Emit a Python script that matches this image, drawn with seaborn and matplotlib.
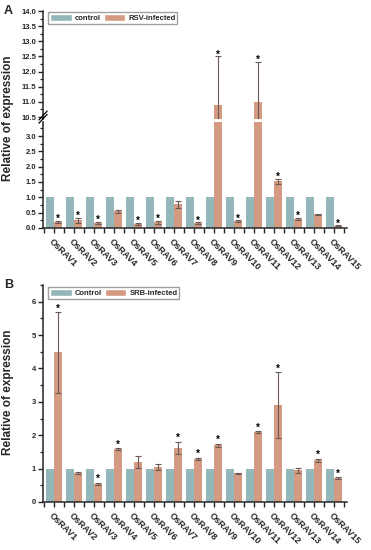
import numpy as np
import pandas as pd
import matplotlib
matplotlib.use('Agg')
import matplotlib.pyplot as plt
import seaborn as sns
from matplotlib.patches import Patch
from matplotlib.ticker import MultipleLocator

genes = ['OsRAV%d' % i for i in range(1, 16)]

# panel A: RSV
ctrl_a = [1.0] * 15
rsv = [0.20, 0.25, 0.17, 0.54, 0.14, 0.18, 0.77, 0.15, 10.9, 0.22, 11.0, 1.53, 0.29, 0.45, 0.07]
rsv_err = [0.03, 0.08, 0.03, 0.05, 0.03, 0.05, 0.12, 0.03, 1.6, 0.03, 1.33, 0.08, 0.03, 0.02, 0.02]
rsv_star = [1, 1, 1, 0, 1, 1, 0, 1, 1, 1, 1, 1, 1, 0, 1]

# panel B: SRB
ctrl_b = [1.0] * 15
srb = [4.48, 0.87, 0.55, 1.59, 1.20, 1.05, 1.63, 1.30, 1.70, 0.86, 2.09, 2.90, 0.95, 1.25, 0.71]
srb_err = [1.21, 0.03, 0.03, 0.03, 0.17, 0.10, 0.18, 0.03, 0.05, 0.02, 0.03, 0.98, 0.08, 0.05, 0.03]
srb_star = [1, 0, 1, 1, 0, 0, 1, 1, 1, 0, 1, 1, 0, 1, 1]

c_ctrl = '#93B6BA'
c_inf = '#D59B82'

sns.set_style('ticks')
plt.rcParams['font.family'] = ['Liberation Sans', 'DejaVu Sans']
plt.rcParams['font.weight'] = 'bold'
plt.rcParams['axes.linewidth'] = 1.1


def make_df(ctrl, inf, names):
    return pd.DataFrame({
        'gene': genes * 2,
        'value': list(ctrl) + list(inf),
        'group': [names[0]] * 15 + [names[1]] * 15,
    })


def draw_bars(ax, df, err, stars, ystar_pad, ylim):
    sns.barplot(data=df, x='gene', y='value', hue='group', palette=[c_ctrl, c_inf],
                width=0.8, errorbar=None, legend=False, ax=ax, saturation=1,
                linewidth=0)
    ax.set_ylim(*ylim)
    bars = ax.containers[1]
    xs = [b.get_x() + b.get_width() / 2 for b in bars]
    hs = [b.get_height() for b in bars]
    ax.errorbar(xs, hs, yerr=err, fmt='none', ecolor='#6b5a55', elinewidth=0.8,
                capsize=2.2, capthick=0.8, zorder=4)
    for x, h, e, s in zip(xs, hs, err, stars):
        ys = h + e + ystar_pad
        # only stars that fall inside this axis piece
        if s and ylim[0] < ys < ylim[1]:
            ax.text(x, ys, '*', ha='center', va='center', fontsize=7,
                    color='black', zorder=5)
    return xs


def style_axis(ax):
    sns.despine(ax=ax)
    ax.set_xlabel('')
    ax.set_ylabel('')
    ax.set_xlim(-0.55, 14.65)
    ax.tick_params(axis='both', direction='out', length=3.5, width=1.0, labelsize=5.5, pad=1.5)
    ax.tick_params(axis='y', which='minor', direction='out', length=2, width=0.9)


def style_xticks(ax):
    ax.set_xticks(range(15))
    ax.set_xticks(np.arange(-0.5, 15, 1.0), minor=True)
    ax.tick_params(axis='x', which='minor', length=3.5, width=1.0)
    ax.set_xticklabels(genes, rotation=-45, ha='left', rotation_mode='anchor',
                       fontsize=6.5, fontweight='bold')
    ax.tick_params(axis='x', pad=3)


fig = plt.figure(figsize=(3.71, 5.5), dpi=100)

# ---- panel A (broken axis)
ax_lo = fig.add_axes([0.116, 0.5855, 0.819, 0.1927])
ax_hi = fig.add_axes([0.116, 0.7836, 0.819, 0.1964])

df_a = make_df(ctrl_a, rsv, ['control', 'RSV-infected'])
draw_bars(ax_lo, df_a, rsv_err, rsv_star, 0.06, (0, 3.457))
draw_bars(ax_hi, df_a, rsv_err, rsv_star, 0.06, (10.434, 14.0))

for ax in (ax_lo, ax_hi):
    style_axis(ax)

ax_lo.yaxis.set_minor_locator(MultipleLocator(0.25))
ax_lo.set_yticks(np.arange(0, 3.01, 0.5))
ax_lo.set_yticklabels(['%.1f' % v for v in np.arange(0, 3.01, 0.5)])
style_xticks(ax_lo)

ax_hi.set_yticks(np.arange(10.5, 14.01, 0.5))
ax_hi.set_yticklabels(['%.1f' % v for v in np.arange(10.5, 14.01, 0.5)])
ax_hi.yaxis.set_minor_locator(MultipleLocator(0.25))
ax_hi.spines['bottom'].set_visible(False)
ax_hi.tick_params(axis='x', which='both', bottom=False, labelbottom=False)

# break marks on y axis
for dy in (0.0, 0.006):
    fig.add_artist(plt.Line2D([0.105, 0.127], [0.776 + dy, 0.792 + dy],
                              transform=fig.transFigure, color='black', lw=0.9))

leg_kw = dict(ncol=2, loc='upper left', fontsize=5.5, frameon=True, fancybox=False,
              edgecolor='#888888', handlelength=2.8, handleheight=1.0,
              columnspacing=0.4, handletextpad=0.4, borderpad=0.25, borderaxespad=0.1)

ax_hi.legend(handles=[Patch(facecolor=c_ctrl, label='control'),
                      Patch(facecolor=c_inf, label='RSV-infected')],
             bbox_to_anchor=(0.015, 1.0), **leg_kw)

fig.text(0.022, 1 - 118 / 550, 'Relative of expression', rotation=90, ha='center',
         va='center', fontsize=8.5, fontweight='bold')
fig.text(0.01, 1 - 11 / 550, 'A', fontsize=9, fontweight='bold', va='center')

# ---- panel B
ax_b = fig.add_axes([0.116, 0.0873, 0.819, 0.3945])
df_b = make_df(ctrl_b, srb, ['Control', 'SRB-infected'])
draw_bars(ax_b, df_b, srb_err, srb_star, 0.1, (0, 6.5))
style_axis(ax_b)
ax_b.yaxis.set_major_locator(MultipleLocator(1))
ax_b.yaxis.set_minor_locator(MultipleLocator(0.5))
style_xticks(ax_b)
ax_b.legend(handles=[Patch(facecolor=c_ctrl, label='Control'),
                     Patch(facecolor=c_inf, label='SRB-infected')],
            bbox_to_anchor=(0.015, 0.995), **leg_kw)

fig.text(0.022, 1 - 392 / 550, 'Relative of expression', rotation=90, ha='center',
         va='center', fontsize=8.5, fontweight='bold')
fig.text(0.01, 1 - 285 / 550, 'B', fontsize=9, fontweight='bold', va='center')

fig.savefig('out.png', dpi=100)
